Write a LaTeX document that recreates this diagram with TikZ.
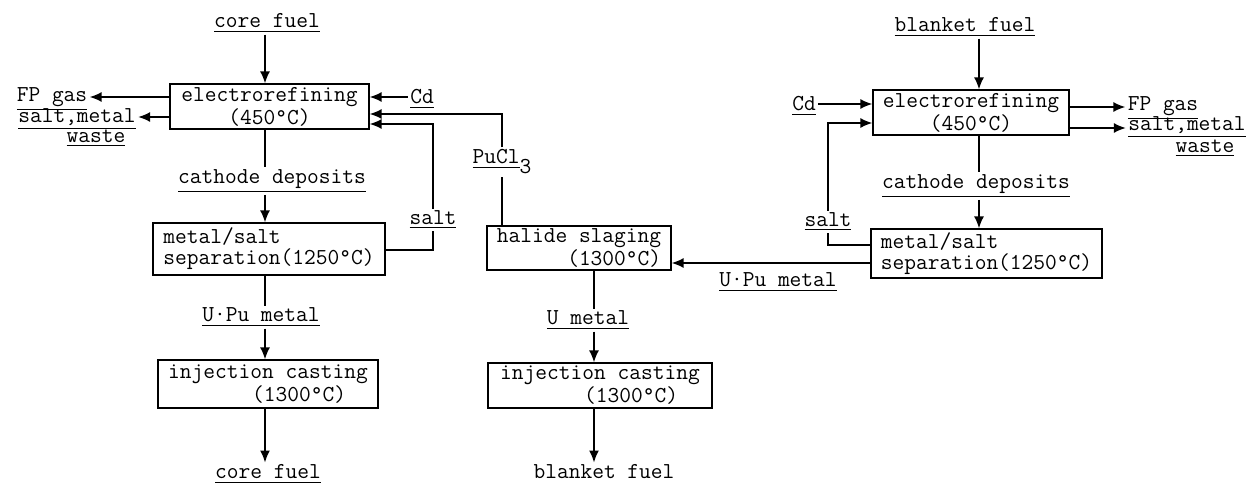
\documentclass[tikz,border=0pt]{standalone}
\usepackage{fontspec}
\usetikzlibrary{arrows.meta}
\tikzset{
  box/.style={draw, line width=0.6pt, inner sep=1pt},
  lab/.style={inner sep=1pt},
  flow/.style={line width=0.8pt},
}
\begin{document}
\begin{tikzpicture}[x=0.5pt,y=-0.5pt,>={Latex[length=6pt,width=5pt]},font=\ttfamily\fontsize{11.4}{10.5}\selectfont]
\useasboundingbox (0,0) rectangle (1250,483);
\coordinate (lcol) at (265,0);
\coordinate (mcol) at (594,0);
\coordinate (rcol) at (979,0);

% Core fuel line (left)
\node[lab] (cin) at (267,23) {\underline{core fuel}};
\node[box, minimum width=99.5pt, minimum height=22.5pt, align=center] (cer) at (269.5,106.5) {electrorefining\\(450°C)};
\node[lab] (cfp) at (52,99) {\underline{FP gas}};
\node[lab] (csm) at (77,119) {\underline{salt,metal}};
\node[lab] (cws) at (96,138) {\underline{waste}};
\node[lab] (cCd) at (422,99) {\underline{Cd}};
\node[lab] (ccath) at (272,181) {\underline{cathode deposits}};
\node[box, minimum width=116pt, minimum height=26pt, align=left] (csep) at (269,249) {metal/salt\\separation(1250°C)};
\node[lab] (csalt) at (433,220) {\underline{salt}};
\node[lab] (cupu) at (261,317) {\underline{U·Pu metal}};
\node[box, minimum width=110pt, minimum height=24pt, align=left] (ccast) at (268,384) {injection casting\\\hspace*{42pt}(1300°C)};
\node[lab] (cout) at (268,474) {\underline{core fuel}};

\draw[flow,->] (cin.south -| lcol) -- (cer.north -| lcol);
\draw[flow,->] ([yshift=4.75pt]cer.west) -- ([yshift=4.75pt]cer.west -| cfp.east);
\draw[flow,->] ([yshift=-5.25pt]cer.west) -- ([yshift=-5.25pt]cer.west -| csm.east);
\draw[flow,->] ([yshift=4.75pt]cer.east -| cCd.west) -- ([yshift=4.75pt]cer.east);
\draw[flow] (cer.south -| lcol) -- (ccath.north -| lcol);
\draw[flow,->] (ccath.south -| lcol) -- (csep.north -| lcol);
\draw[flow] ([yshift=-0.5pt]csep.east) -| (csalt.south);
\draw[flow,->] (csalt.north) |- ([yshift=-8.75pt]cer.east);
\draw[flow] (csep.south -| lcol) -- (cupu.north -| lcol);
\draw[flow,->] (cupu.south -| lcol) -- (ccast.north -| lcol);
\draw[flow,->] (ccast.south -| lcol) -- (cout.north -| lcol);

% Blanket fuel line (middle)
\node[lab] (pu) at (502,162) {\underline{PuCl}\raisebox{-5pt}{3}};
\node[box, minimum width=92pt, minimum height=22pt, align=right] (hal) at (579,248) {halide slaging\\(1300°C)};
\node[lab] (upu) at (778,282) {\underline{U·Pu metal}};
\node[lab] (umet) at (588,320) {\underline{U metal}};
\node[box, minimum width=112pt, minimum height=22.5pt, align=left] (bcast) at (600,385.5) {injection casting\\\hspace*{42pt}(1300°C)};
\node[lab] (bout) at (604,472) {blanket fuel};

\draw[flow] (hal.north -| pu) -- (pu.south);
\draw[flow,->] (pu.north) |- ([yshift=-3.75pt]cer.east);
\draw[flow] (hal.south -| mcol) -- (umet.north -| mcol);
\draw[flow,->] (umet.south -| mcol) -- (bcast.north -| mcol);
\draw[flow,->] (bcast.south -| mcol) -- (bout.north -| mcol);

% Blanket fuel line (right)
\node[lab] (bin) at (965,27) {\underline{blanket fuel}};
\node[box, minimum width=98pt, minimum height=22.5pt, align=center] (ber) at (971,112.5) {electrorefining\\(450°C)};
\node[lab] (bCd) at (804,106) {\underline{Cd}};
\node[lab] (bfp) at (1163,108) {\underline{FP gas}};
\node[lab] (bsm) at (1187,127) {\underline{salt,metal}};
\node[lab] (bws) at (1205,148) {\underline{waste}};
\node[lab] (bcath) at (976,186) {\underline{cathode deposits}};
\node[box, minimum width=115.5pt, minimum height=24.5pt, align=left] (bsep) at (986.5,253.5) {metal/salt\\separation(1250°C)};
\node[lab] (bsalt) at (828,222) {\underline{salt}};

\draw[flow,->] (bin.south -| rcol) -- (ber.north -| rcol);
\draw[flow,->] ([yshift=4.25pt]ber.west -| bCd.east) -- ([yshift=4.25pt]ber.west);
\draw[flow,->] ([yshift=2.75pt]ber.east) -- ([yshift=2.75pt]ber.east -| bfp.west);
\draw[flow,->] ([yshift=-7.75pt]ber.east) -- ([yshift=-7.75pt]ber.east -| bsm.west);
\draw[flow] (ber.south -| rcol) -- (bcath.north -| rcol);
\draw[flow,->] (bcath.south -| rcol) -- (bsep.north -| rcol);
\draw[flow] ([yshift=4.25pt]bsep.west) -| (bsalt.south);
\draw[flow,->] (bsalt.north) |- ([yshift=-5.25pt]ber.west);
\draw[flow,->] ([yshift=-4.75pt]bsep.west) -- ([yshift=-4.75pt]bsep.west -| hal.east);
\end{tikzpicture}
\end{document}
